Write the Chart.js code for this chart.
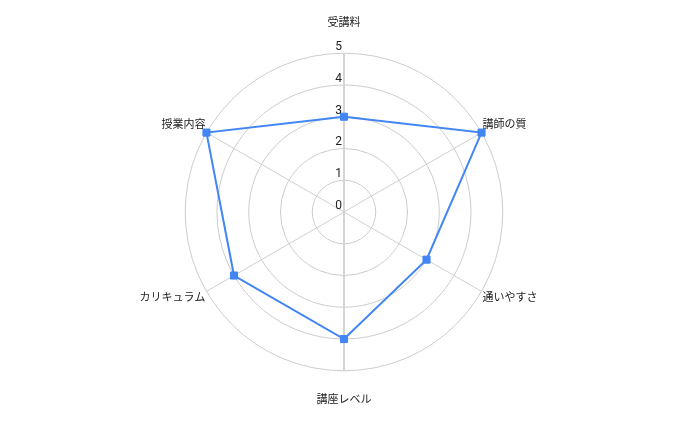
<!DOCTYPE html>
<html>
<head>
<meta charset="utf-8">
<script src="https://cdn.jsdelivr.net/npm/chart.js@4"></script>
<style>
html,body{margin:0;padding:0;background:#fff;}
#wrap{width:688px;height:425px;position:relative;}
</style>
</head>
<body>
<div id="wrap"><canvas id="c"></canvas></div>
<script>
const categories = ['受講料', '講師の質', '通いやすさ', '講座レベル', 'カリキュラム', '授業内容'];
const scores = [3, 5, 3, 4, 4, 5];
const tickValues = [0, 1, 2, 3, 4, 5];

const FONT = "Roboto, 'Noto Sans CJK JP', sans-serif";

const tickLabelPlugin = {
  id: 'tickLabels',
  afterDatasetsDraw(chart) {
    const scale = chart.scales.r;
    const ctx = chart.ctx;
    ctx.save();
    ctx.font = "12px " + FONT;
    ctx.fillStyle = '#222222';
    ctx.textAlign = 'right';
    ctx.textBaseline = 'alphabetic';
    tickValues.forEach(v => {
      const p = scale.getPointPositionForValue(0, v);
      ctx.fillText(String(v), p.x - 2, p.y - 3);
    });
    ctx.restore();
  }
};

new Chart(document.getElementById('c'), {
  type: 'radar',
  data: {
    labels: categories,
    datasets: [{
      data: scores,
      borderColor: '#4285f4',
      backgroundColor: 'rgba(0,0,0,0)',
      borderWidth: 2,
      fill: false,
      pointStyle: 'rect',
      pointRadius: 5,
      pointHoverRadius: 5,
      pointBackgroundColor: '#4285f4',
      pointBorderColor: '#4285f4',
      pointBorderWidth: 1,
      tension: 0
    }]
  },
  options: {
    responsive: true,
    maintainAspectRatio: false,
    animation: false,
    layout: { padding: { top: 17, bottom: 17, left: 0, right: 0 } },
    plugins: { legend: { display: false }, tooltip: { enabled: false } },
    scales: {
      r: {
        min: 0,
        max: 5,
        ticks: { display: false, stepSize: 1 },
        grid: { circular: true, color: '#cccccc', lineWidth: 1 },
        angleLines: {
          color: ctx => (ctx.index === 0 || ctx.index === 3) ? '#d4d4d4' : '#d0d0d0',
          lineWidth: ctx => (ctx.index === 0 || ctx.index === 3) ? 2 : 1
        },
        pointLabels: {
          color: '#222222',
          font: { family: FONT, size: 11 },
          padding: ctx => (ctx.index === 0 || ctx.index === 3) ? 23 : 1
        }
      }
    }
  },
  plugins: [tickLabelPlugin]
});
</script>
</body>
</html>
